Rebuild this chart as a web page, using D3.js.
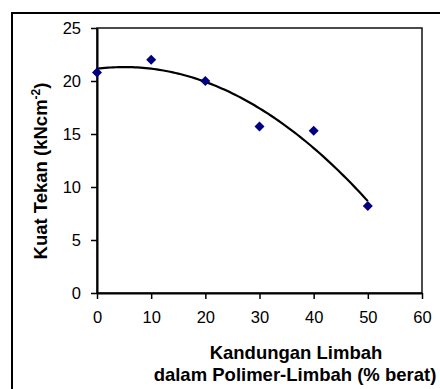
<!DOCTYPE html>
<html>
<head>
<meta charset="utf-8">
<script src="https://cdn.jsdelivr.net/npm/d3@7"></script>
<style>
  html, body { margin: 0; padding: 0; background: #fff; }
  svg { display: block; }
  text { font-family: "Liberation Sans", Arial, sans-serif; }
</style>
</head>
<body>
<svg id="chart" width="440" height="389"></svg>
<script>
// ---- data ----
const kandungan = [0, 10, 20, 30, 40, 50];          // % berat
const kuatTekan = [20.8, 22.0, 20.0, 15.7, 15.3, 8.2]; // kNcm-2
const xTicks = [0, 10, 20, 30, 40, 50, 60];
const yTicks = [0, 5, 10, 15, 20, 25];
const xDomain = [0, 60];
const yDomain = [0, 25];

const svg = d3.select("#chart");
const plot = { left: 97, top: 28, right: 422, bottom: 293 };

// outer frame (right/bottom outside the window)
svg.append("rect")
  .attr("x", 12).attr("y", 13)
  .attr("width", 460).attr("height", 420)
  .attr("fill", "none").attr("stroke", "#000").attr("stroke-width", 2);

const x = d3.scaleLinear().domain(xDomain).range([plot.left, plot.right]);
const y = d3.scaleLinear().domain(yDomain).range([plot.bottom, plot.top]);

// plot area border (top/right)
svg.append("rect")
  .attr("x", plot.left).attr("y", plot.top)
  .attr("width", plot.right - plot.left).attr("height", plot.bottom - plot.top)
  .attr("fill", "none").attr("stroke", "#111").attr("stroke-width", 1.5);

// axes
const xAxis = svg.append("g")
  .attr("transform", `translate(0,${plot.bottom})`)
  .call(d3.axisBottom(x).tickValues(xTicks).tickSize(6).tickPadding(12).tickSizeOuter(0));
const yAxis = svg.append("g")
  .attr("transform", `translate(${plot.left},0)`)
  .call(d3.axisLeft(y).tickValues(yTicks).tickSize(6).tickPadding(10).tickSizeOuter(0));

[xAxis, yAxis].forEach(g => {
  g.select(".domain").attr("stroke", "#000").attr("stroke-width", 2);
  g.selectAll(".tick line").attr("stroke", "#000").attr("stroke-width", 1.5);
  g.selectAll(".tick text")
    .attr("fill", "#000")
    .style("font-family", '"Liberation Sans", Arial, sans-serif')
    .style("font-size", "16.5px");
});

// quadratic least-squares trendline computed from the data
function polyFit2(xs, ys) {
  const n = xs.length;
  let S = [0,0,0,0,0], T = [0,0,0];
  for (let i = 0; i < n; i++) {
    const xi = xs[i], yi = ys[i];
    for (let k = 0; k <= 4; k++) S[k] += Math.pow(xi, k);
    for (let k = 0; k <= 2; k++) T[k] += Math.pow(xi, k) * yi;
  }
  const A = [[S[0],S[1],S[2],T[0]],[S[1],S[2],S[3],T[1]],[S[2],S[3],S[4],T[2]]];
  for (let i = 0; i < 3; i++) {
    let p = i;
    for (let r = i+1; r < 3; r++) if (Math.abs(A[r][i]) > Math.abs(A[p][i])) p = r;
    [A[i], A[p]] = [A[p], A[i]];
    for (let r = 0; r < 3; r++) {
      if (r === i) continue;
      const f = A[r][i] / A[i][i];
      for (let c = i; c < 4; c++) A[r][c] -= f * A[i][c];
    }
  }
  return [A[0][3]/A[0][0], A[1][3]/A[1][1], A[2][3]/A[2][2]];
}
const coef = polyFit2(kandungan, kuatTekan);
const xmin = d3.min(kandungan), xmax = d3.max(kandungan);
const trend = d3.range(0, 101).map(i => {
  const xv = xmin + (xmax - xmin) * i / 100;
  return [xv, coef[0] + coef[1]*xv + coef[2]*xv*xv];
});
svg.append("path")
  .datum(trend)
  .attr("fill", "none").attr("stroke", "#000").attr("stroke-width", 2.2)
  .attr("d", d3.line().x(d => x(d[0])).y(d => y(d[1])));

// markers
svg.append("g").selectAll("path")
  .data(kandungan.map((k, i) => [k, kuatTekan[i]]))
  .join("path")
  .attr("transform", d => `translate(${x(d[0])},${y(d[1])})`)
  .attr("d", "M0,-5L5,0L0,5L-5,0Z")
  .attr("fill", "#000080");

// axis titles
const xt = svg.append("text")
  .attr("text-anchor", "middle")
  .attr("font-weight", "bold").attr("font-size", 18.5).attr("fill", "#000");
xt.append("tspan").attr("x", 296).attr("y", 359).text("Kandungan Limbah");
xt.append("tspan").attr("x", 295).attr("y", 381).text("dalam Polimer-Limbah (% berat)");

const yt = svg.append("text")
  .attr("transform", "translate(47,171) rotate(-90)")
  .attr("text-anchor", "middle")
  .attr("font-weight", "bold").attr("font-size", 18.5).attr("fill", "#000");
yt.append("tspan").text("Kuat Tekan (kNcm");
yt.append("tspan").attr("dy", -7).attr("font-size", 12).text("-2");
yt.append("tspan").attr("dy", 7).text(")");
</script>
</body>
</html>
